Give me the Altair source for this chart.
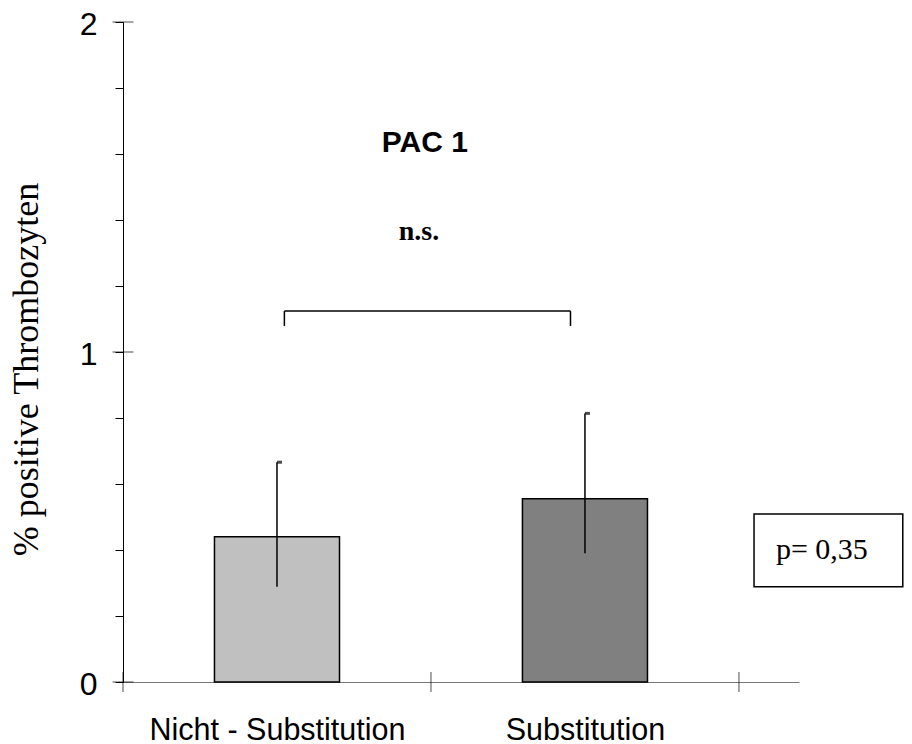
import altair as alt
import pandas as pd

# ---- data ----
categories = ["Nicht - Substitution", "Substitution"]
positions = [0.5, 1.5]
means = [0.44, 0.555]
upper = [0.666, 0.814]
lower = [0.289, 0.390]
bar_colors = ["#c0c0c0", "#808080"]

y_ticks = [round(i * 0.1, 1) for i in range(21)]
y_major = [0, 1, 2]
x_major = [0, 1, 2]

title_text = "PAC 1"
sig_text = "n.s."
p_text = "p= 0,35"

bars = pd.DataFrame({"cat": categories, "pos": positions, "mean": means,
                     "upper": upper, "lower": lower})

X_DOMAIN = [0, 2.195]
Y_DOMAIN = [0, 2]
HALF = 0.203

xs = alt.Scale(domain=X_DOMAIN, nice=False, zero=False)
ys = alt.Scale(domain=Y_DOMAIN, nice=False)

x_axis = alt.Axis(values=positions, ticks=False, grid=False, domainColor="#777777",
                  domainWidth=1,
                  labelExpr="datum.value == 0.5 ? 'Nicht - Substitution' : (datum.value == 1.5 ? 'Substitution' : '')",
                  labelFont="Liberation Sans", labelFontSize=30.5, labelColor="black",
                  labelBaseline="alphabetic", labelPadding=57, labelFlush=False,
                  labelOverlap=False, labelLimit=0, title=None)
y_axis = alt.Axis(values=y_ticks, grid=False, domainColor="black", domainWidth=1,
                  tickColor="black", tickSize=8, tickWidth=1,
                  labelExpr="datum.value % 1 === 0 ? format(datum.value, 'd') : ''",
                  labelFont="Liberation Sans", labelFontSize=32, labelColor="black",
                  labelPadding=18, labelOffset=2, labelOverlap=False, labelFlush=False,
                  title="% positive Thrombozyten", titleFont="Liberation Serif",
                  titleFontSize=36, titleFontWeight="normal", titleColor="black",
                  titleX=-86, titleY=347, titleAlign="center",
                  titleBaseline="alphabetic", titleAngle=270)

base = alt.Chart(bars)

bar_layer = base.transform_calculate(
    x0=f"datum.pos - {HALF}", x1=f"datum.pos + {HALF}"
).mark_rect(stroke="black", strokeWidth=1.5).encode(
    x=alt.X("x0:Q", scale=xs, axis=x_axis),
    x2="x1:Q",
    y=alt.Y("mean:Q", scale=ys, axis=y_axis),
    y2=alt.datum(0),
    fill=alt.Fill("cat:N", scale=alt.Scale(domain=categories, range=bar_colors), legend=None),
)

err_layer = base.mark_rule(color="black", strokeWidth=1.5).encode(
    x="pos:Q", y="lower:Q", y2="upper:Q")

cap_layer = base.mark_tick(orient="horizontal", size=5, thickness=3, xOffset=2.5,
                           color="black").encode(x="pos:Q", y="upper:Q")

# significance bracket
br = pd.DataFrame({"x": [0.524], "x2": [1.453], "y": [1.124], "yb": [1.079]})
br_h = alt.Chart(br).mark_rule(color="black", strokeWidth=1.5).encode(
    x="x:Q", x2="x2:Q", y="y:Q")
br_l = alt.Chart(br).mark_rule(color="black", strokeWidth=1.5).encode(
    x="x:Q", y="yb:Q", y2="y:Q")
br_r = alt.Chart(br).mark_rule(color="black", strokeWidth=1.5).encode(
    x="x2:Q", y="yb:Q", y2="y:Q")

# p-value box
box = pd.DataFrame({"x": [2.049], "x2": [2.532], "y": [0.289], "y2": [0.509]})
box_layer = alt.Chart(box).mark_rect(fill="white", stroke="black", strokeWidth=1.5).encode(
    x="x:Q", x2="x2:Q", y="y:Q", y2="y2:Q")

txt = pd.DataFrame({
    "t": [title_text, sig_text, p_text],
    "x": [0.98, 0.961, 2.12],
    "y": [1.633, 1.339, 0.40],
})
title_layer = alt.Chart(txt.iloc[[0]]).mark_text(
    font="Liberation Sans", fontSize=30, fontWeight="bold", baseline="middle",
    align="center", color="black").encode(x="x:Q", y="y:Q", text="t:N")
sig_layer = alt.Chart(txt.iloc[[1]]).mark_text(
    font="Liberation Serif", fontSize=28, fontWeight="bold", baseline="alphabetic",
    align="center", color="black").encode(x="x:Q", y="y:Q", text="t:N")
p_layer = alt.Chart(txt.iloc[[2]]).mark_text(
    font="Liberation Serif", fontSize=30, baseline="middle", align="left",
    color="black").encode(x="x:Q", y="y:Q", text="t:N")

# crossing major ticks
ymaj = pd.DataFrame({"v": y_major})
xmaj = pd.DataFrame({"v": x_major})
ytick_layer = alt.Chart(ymaj).mark_tick(orient="horizontal", size=21, thickness=1,
                                        color="black").encode(x=alt.datum(0), y="v:Q")
xtick_layer = alt.Chart(xmaj).mark_tick(orient="vertical", size=20, thickness=1,
                                        color="black").encode(x="v:Q", y=alt.datum(0))

chart = alt.layer(
    box_layer, bar_layer, err_layer, cap_layer, br_h, br_l, br_r,
    title_layer, sig_layer, p_layer, ytick_layer, xtick_layer
).properties(
    width=676, height=660,
    padding={"left": 115, "top": 14, "right": 105, "bottom": 62},
    autosize=alt.AutoSizeParams(type="none"),
    background="white",
).configure_view(stroke=None)

chart.save("out.html", embed_options={"renderer": "svg", "actions": False})
